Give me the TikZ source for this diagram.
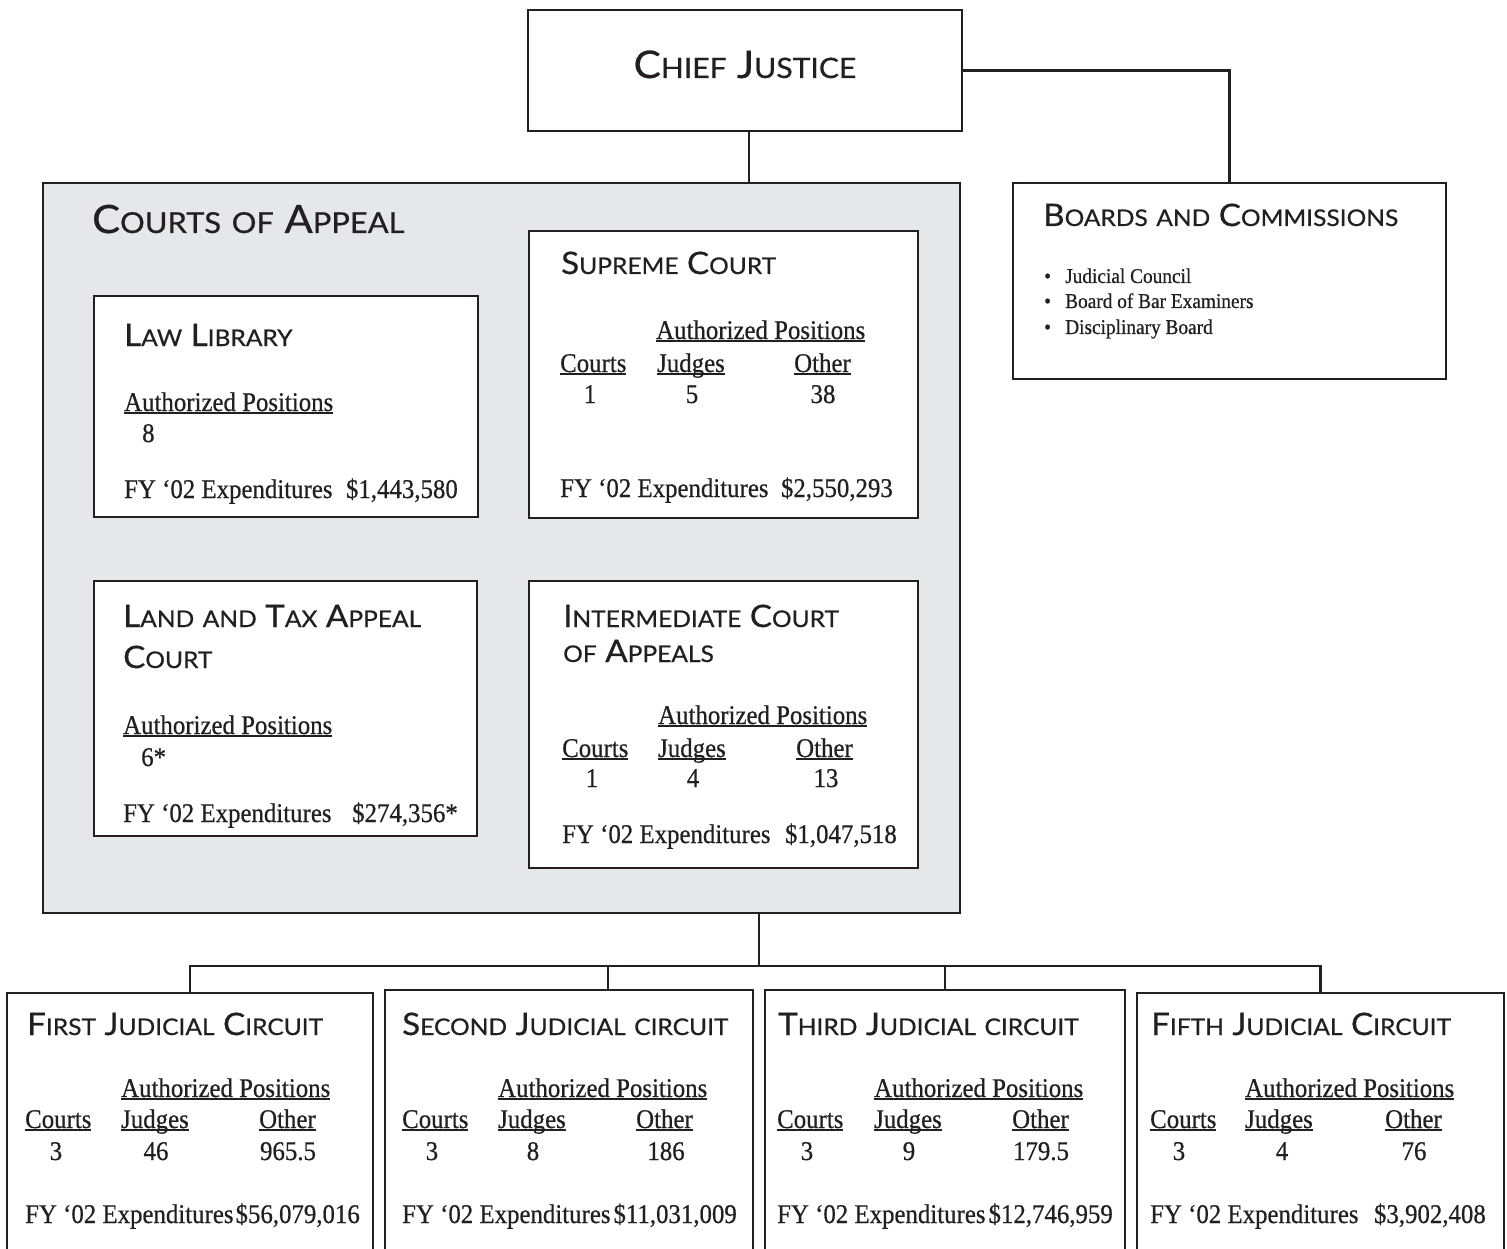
\documentclass[tikz,border=0pt]{standalone}
\usepackage{fontspec}
\setmainfont{Liberation Serif}[FakeStretch=0.92,FakeBold=0.6]
\newfontfamily\titlefont{Lato}[FakeStretch=1.07,FakeBold=0.6]
\definecolor{panel}{RGB}{230,231,233}
\definecolor{ink}{RGB}{35,31,32}
\newcommand\Sm[1]{\scalebox{0.74}{#1}}
\newcommand\T[2]{#1\Sm{#2}}
\newcommand\ul[1]{\setbox0\hbox{#1}\rlap{\rule[-3pt]{\wd0}{1.8pt}}\box0}
\begin{document}
\begin{tikzpicture}[x=1pt,y=-1pt,
  box/.style={draw=ink, line width=2.4pt, fill=white, inner sep=0pt, outer sep=0pt, anchor=north west},
  link/.style={draw=ink, line width=2.4pt},
  ttl/.style={anchor=base west, inner sep=0pt, text=ink, font=\titlefont\fontsize{31}{37}\selectfont},
  txt/.style={anchor=base west, inner sep=0pt, text=ink, font=\fontsize{27}{32}\selectfont},
  num/.style={txt, anchor=base},
  amt/.style={txt, anchor=base east},
  bul/.style={anchor=base west, inner sep=0pt, text=ink, font=\fontsize{21}{25}\selectfont}]
\useasboundingbox (0,0) rectangle (1507,1249);
\clip (0,0) rectangle (1507,1249);
\fill[white] (0,0) rectangle (1507,1249);

\coordinate (bus) at (759,966);
\coordinate (d2) at (608,966);
\coordinate (cjd) at (749,131);

% ---------- boxes
\node[box, minimum width=434pt, minimum height=121pt] (chief) at (528,10) {};
\node[box, minimum width=433pt, minimum height=196pt] (boards) at (1013,183) {};
\node[box, fill=panel, minimum width=917pt, minimum height=730pt] (coa) at (43,183) {};
\node[box, minimum width=384pt, minimum height=221pt] (law) at (94,296) {};
\node[box, minimum width=389pt, minimum height=287pt] (sup) at (529,231) {};
\node[box, minimum width=383pt, minimum height=255pt] (land) at (94,581) {};
\node[box, minimum width=389pt, minimum height=287pt] (inter) at (529,581) {};
\node[box, minimum width=366pt, minimum height=320pt] (first) at (7,993) {};
\node[box, minimum width=368pt, minimum height=320pt] (second) at (385,990) {};
\node[box, minimum width=360pt, minimum height=320pt] (third) at (765,990) {};
\node[box, minimum width=367pt, minimum height=320pt] (fifth) at (1137,993) {};

% ---------- connectors
\draw[link] (chief.east) -| (boards.north);
\draw[link] (cjd) -- (cjd |- coa.north);
\draw[link] (bus |- coa.south) -- (bus);
\draw[link] (first.north) |- (bus) -- (bus -| fifth.north) -- (fifth.north);
\draw[link] (d2) -- (d2 |- second.north);
\draw[link] (bus -| third.north) -- (third.north);

% ---------- Chief Justice
\node[anchor=base, inner sep=0pt, text=ink, font=\titlefont\fontsize{38}{44}\selectfont] (chief-t) at (745,78) {\T{C}{HIEF} \T{J}{USTICE}};

% ---------- Boards and Commissions
\node[ttl, font=\titlefont\fontsize{31}{37}\selectfont] (boards-t) at (1043,226) {\T{B}{OARDS} \Sm{AND} \T{C}{OMMISSIONS}};
\node[bul] (b1d) at (1044,283) {•};
\node[bul] (b1) at (1065,283) {Judicial Council};
\node[bul] (b2d) at (1044,308) {•};
\node[bul] (b2) at (1065,308) {Board of Bar Examiners};
\node[bul] (b3d) at (1044,334) {•};
\node[bul] (b3) at (1065,334) {Disciplinary Board};

% ---------- Courts of Appeal
\node[ttl, font=\titlefont\fontsize{39}{46}\selectfont] (coa-t) at (92,233) {\T{C}{OURTS} \Sm{OF} \T{A}{PPEAL}};

% Law Library
\node[ttl] (law-t) at (124,346) {\T{L}{AW} \T{L}{IBRARY}};
\node[txt] (law-ap) at (124,411) {\ul{Authorized Positions}};
\node[txt] (law-n) at (142,442) {8};
\node[txt] (law-fy) at (124,498) {FY ‘02 Expenditures};
\node[amt] (law-a) at (458,498) {\$1,443,580};

% Supreme Court
\node[ttl] (sup-t) at (561,274) {\T{S}{UPREME} \T{C}{OURT}};
\node[txt] (sup-ap) at (656,339) {\ul{Authorized Positions}};
\node[txt] (sup-c) at (560,372) {\ul{Courts}};
\node[txt] (sup-j) at (657,372) {\ul{Judges}};
\node[txt] (sup-o) at (794,372) {\ul{Other}};
\node[num] (sup-n1) at (590,403) {1};
\node[num] (sup-n2) at (692,403) {5};
\node[num] (sup-n3) at (823,403) {38};
\node[txt] (sup-fy) at (560,497) {FY ‘02 Expenditures};
\node[amt] (sup-a) at (893,497) {\$2,550,293};

% Land and Tax Appeal Court
\node[ttl] (land-t1) at (123,627) {\T{L}{AND} \Sm{AND} \T{T}{AX} \T{A}{PPEAL}};
\node[ttl] (land-t2) at (123,668) {\T{C}{OURT}};
\node[txt] (land-ap) at (123,734) {\ul{Authorized Positions}};
\node[txt] (land-n) at (141,766) {6*};
\node[txt] (land-fy) at (123,822) {FY ‘02 Expenditures};
\node[amt] (land-a) at (458,822) {\$274,356*};

% Intermediate Court of Appeals
\node[ttl] (inter-t1) at (563,627) {\T{I}{NTERMEDIATE} \T{C}{OURT}};
\node[ttl] (inter-t2) at (563,662) {\Sm{OF} \T{A}{PPEALS}};
\node[txt] (inter-ap) at (658,724) {\ul{Authorized Positions}};
\node[txt] (inter-c) at (562,757) {\ul{Courts}};
\node[txt] (inter-j) at (658,757) {\ul{Judges}};
\node[txt] (inter-o) at (796,757) {\ul{Other}};
\node[num] (inter-n1) at (592,787) {1};
\node[num] (inter-n2) at (693,787) {4};
\node[num] (inter-n3) at (826,787) {13};
\node[txt] (inter-fy) at (562,843) {FY ‘02 Expenditures};
\node[amt] (inter-a) at (897,843) {\$1,047,518};

% ---------- Circuits
\begin{scope}[xshift=25pt]
\node[ttl] (c1-t) at (2,1035) {\T{F}{IRST} \T{J}{UDICIAL} \T{C}{IRCUIT}};
\node[txt] (c1-ap) at (96,1097) {\ul{Authorized Positions}};
\node[txt] (c1-c) at (0,1128) {\ul{Courts}};
\node[txt] (c1-j) at (96,1128) {\ul{Judges}};
\node[txt] (c1-o) at (234,1128) {\ul{Other}};
\node[num] (c1-n1) at (31,1160) {3};
\node[num] (c1-n2) at (131,1160) {46};
\node[num] (c1-n3) at (263,1160) {965.5};
\node[txt] (c1-fy) at (0,1223) {FY ‘02 Expenditures};
\node[amt] (c1-a) at (335,1223) {\$56,079,016};
\end{scope}

\begin{scope}[xshift=402pt]
\node[ttl] (c2-t) at (0,1035) {\T{S}{ECOND} \T{J}{UDICIAL} \Sm{CIRCUIT}};
\node[txt] (c2-ap) at (96,1097) {\ul{Authorized Positions}};
\node[txt] (c2-c) at (0,1128) {\ul{Courts}};
\node[txt] (c2-j) at (96,1128) {\ul{Judges}};
\node[txt] (c2-o) at (234,1128) {\ul{Other}};
\node[num] (c2-n1) at (30,1160) {3};
\node[num] (c2-n2) at (131,1160) {8};
\node[num] (c2-n3) at (264,1160) {186};
\node[txt] (c2-fy) at (0,1223) {FY ‘02 Expenditures};
\node[amt] (c2-a) at (335,1223) {\$11,031,009};
\end{scope}

\begin{scope}[xshift=777pt]
\node[ttl] (c3-t) at (1,1035) {\T{T}{HIRD} \T{J}{UDICIAL} \Sm{CIRCUIT}};
\node[txt] (c3-ap) at (97,1097) {\ul{Authorized Positions}};
\node[txt] (c3-c) at (0,1128) {\ul{Courts}};
\node[txt] (c3-j) at (97,1128) {\ul{Judges}};
\node[txt] (c3-o) at (235,1128) {\ul{Other}};
\node[num] (c3-n1) at (30,1160) {3};
\node[num] (c3-n2) at (132,1160) {9};
\node[num] (c3-n3) at (264,1160) {179.5};
\node[txt] (c3-fy) at (0,1223) {FY ‘02 Expenditures};
\node[amt] (c3-a) at (336,1223) {\$12,746,959};
\end{scope}

\begin{scope}[xshift=1150pt]
\node[ttl] (c5-t) at (1,1035) {\T{F}{IFTH} \T{J}{UDICIAL} \T{C}{IRCUIT}};
\node[txt] (c5-ap) at (95,1097) {\ul{Authorized Positions}};
\node[txt] (c5-c) at (0,1128) {\ul{Courts}};
\node[txt] (c5-j) at (95,1128) {\ul{Judges}};
\node[txt] (c5-o) at (235,1128) {\ul{Other}};
\node[num] (c5-n1) at (29,1160) {3};
\node[num] (c5-n2) at (132,1160) {4};
\node[num] (c5-n3) at (264,1160) {76};
\node[txt] (c5-fy) at (0,1223) {FY ‘02 Expenditures};
\node[amt] (c5-a) at (336,1223) {\$3,902,408};
\end{scope}
\end{tikzpicture}
\end{document}
